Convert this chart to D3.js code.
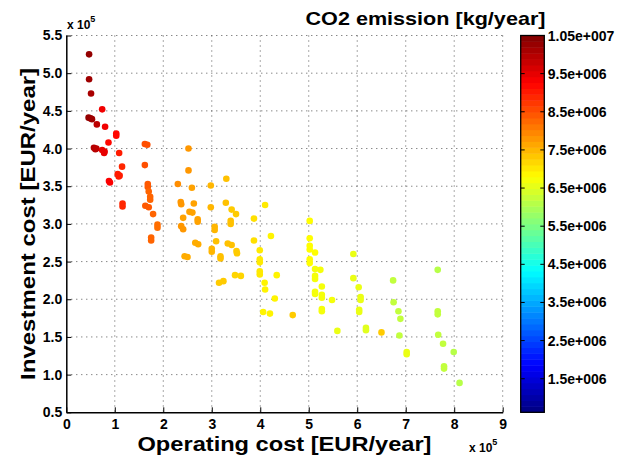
<!DOCTYPE html>
<html>
<head>
<meta charset="utf-8">
<script src="https://cdn.jsdelivr.net/npm/d3@7"></script>
<style>
  body { margin: 0; background: #fff; }
  text { font-family: "Liberation Sans", Arial, Helvetica, sans-serif; font-weight: bold; fill: #000; }
</style>
</head>
<body>
<div class="canvas"></div>
<script>
// operating cost (x 1e5 EUR/year)
let opCost = [
  0.47, 0.47, 0.51, 0.74, 0.46, 0.50, 0.53, 0.63, 0.80, 1.03, 1.03, 0.87, 0.57, 0.60, 0.62, 0.74, 0.78, 0.79,
  1.09, 1.15, 1.06, 1.08, 1.10, 0.88, 0.90, 1.16, 1.16,
  1.62, 1.67, 1.62, 1.68, 1.68, 1.70, 1.73, 1.73, 1.63, 1.70, 1.79, 1.88, 1.88, 1.75, 1.75,
  2.52, 2.52, 2.30, 2.59, 2.36, 2.37, 2.63, 2.54, 2.60, 2.41, 2.71, 2.71, 2.37, 2.41, 2.98, 3.30, 3.29, 2.98,
  3.41, 3.50, 3.39, 3.39, 3.06, 3.06, 2.66, 2.72, 3.09, 3.33, 3.41, 3.00, 3.00, 3.51, 3.52, 2.44, 2.50, 3.18,
  3.18, 3.87, 4.10, 4.22, 3.87, 3.99, 3.99, 3.99, 3.99, 3.99, 3.48, 3.60, 3.15, 3.24, 4.34, 4.09, 4.10, 4.30,
  4.06, 4.20, 4.67,
  5.02, 5.02, 5.02, 5.02, 5.13, 5.02, 5.02, 5.13, 5.24, 5.13, 5.13, 5.27, 5.13, 5.13, 5.27, 5.27, 5.48, 5.27,
  5.27, 5.59, 5.92, 5.92, 6.03, 6.07, 6.07, 6.04, 6.04, 6.18, 6.18, 6.50, 6.74, 6.75, 6.85, 6.89, 6.87, 7.02,
  7.02, 7.66, 7.66, 7.66, 7.67, 7.77, 7.99, 7.79, 7.79, 8.11
]
// investment cost (x 1e5 EUR/year)
let invCost = [
  5.25, 4.92, 4.73, 4.52, 4.41, 4.40, 4.39, 4.32, 4.29, 4.20, 4.17, 4.08, 4.01, 3.99, 4.00, 3.98, 3.94, 3.96,
  3.94, 3.76, 3.66, 3.63, 3.64, 3.57, 3.55, 3.27, 3.23,
  4.06, 4.05, 3.78, 3.53, 3.49, 3.43, 3.36, 3.32, 3.24, 3.22, 3.13, 2.99, 2.95, 2.82, 2.78,
  4.00, 3.71, 3.53, 3.48, 3.29, 3.26, 3.27, 3.16, 3.15, 3.08, 3.06, 3.03, 2.97, 2.93, 3.51, 3.60, 3.28, 3.22,
  3.19, 3.13, 3.04, 3.00, 2.96, 2.92, 2.75, 2.73, 2.77, 2.74, 2.72, 2.67, 2.63, 2.64, 2.61, 2.57, 2.56, 2.57,
  2.54, 3.07, 3.25, 2.84, 2.78, 2.65, 2.53, 2.49, 2.37, 2.33, 2.32, 2.31, 2.22, 2.24, 2.32, 2.22, 2.13, 2.01,
  1.83, 1.81, 1.79,
  3.04, 2.81, 2.71, 2.66, 2.62, 2.53, 2.48, 2.40, 2.39, 2.31, 2.27, 2.17, 2.10, 2.07, 2.06, 2.02, 1.99, 1.87,
  1.84, 1.58, 2.60, 2.28, 2.16, 2.03, 1.99, 1.86, 1.83, 1.62, 1.59, 1.56, 2.25, 1.96, 1.84, 1.74, 1.52, 1.30,
  1.27, 2.39, 1.84, 1.80, 1.53, 1.41, 1.30, 1.11, 1.08, 0.89
]
// CO2 emission (x 1e6 kg/year)
let co2 = [
  10.3, 10.2, 10.1, 9.4, 10.3, 10.3, 10.2, 9.9, 9.4, 9.2, 9.2, 9.2, 10.0, 10.0, 9.9, 9.5, 9.5, 9.5,
  9.0, 8.9, 9.0, 9.0, 9.0, 9.3, 9.3, 8.9, 8.9,
  8.5, 8.5, 8.5, 8.4, 8.4, 8.3, 8.3, 8.3, 8.4, 8.4, 8.3, 8.2, 8.2, 8.3, 8.3,
  7.8, 7.8, 7.9, 7.7, 7.8, 7.8, 7.7, 7.7, 7.7, 7.7, 7.7, 7.7, 7.8, 7.8, 7.5, 7.4, 7.4, 7.5,
  7.3, 7.3, 7.4, 7.4, 7.5, 7.5, 7.6, 7.6, 7.4, 7.4, 7.4, 7.5, 7.5, 7.3, 7.3, 7.6, 7.6, 7.4,
  7.4, 7.1, 7.0, 6.9, 7.1, 7.0, 7.0, 7.0, 7.0, 7.0, 7.2, 7.2, 7.3, 7.3, 6.9, 6.9, 6.9, 6.9,
  6.9, 6.9, 7.3,
  6.8, 6.8, 6.8, 6.8, 6.8, 6.8, 6.8, 6.7, 6.7, 6.7, 6.7, 6.7, 6.7, 6.7, 6.7, 6.7, 6.7, 6.7,
  6.7, 6.6, 6.6, 6.6, 6.6, 6.6, 6.6, 6.6, 6.6, 6.5, 6.5, 7.3, 6.2, 6.2, 6.2, 6.2, 6.2, 6.6,
  6.6, 6.1, 6.2, 6.2, 6.2, 6.2, 6.1, 6.2, 6.2, 6.1
]

let xTicks = [0, 1, 2, 3, 4, 5, 6, 7, 8, 9]
let yTicks = [0.5, 1, 1.5, 2, 2.5, 3, 3.5, 4, 4.5, 5, 5.5]
let cbTicks = [1.5, 2.5, 3.5, 4.5, 5.5, 6.5, 7.5, 8.5, 9.5, 10.5]
let cbLabels = ['1.5e+006', '2.5e+006', '3.5e+006', '4.5e+006', '5.5e+006',
                '6.5e+006', '7.5e+006', '8.5e+006', '9.5e+006', '1.05e+007']
let cbRange = [0.62, 10.5]

let width = 627,
    height = 460,
    mLeft = 66.3,
    mRight = 502.7,
    mTop = 35.5,
    mBottom = 412.3,
    cbLeft = 520.7,
    cbWidth = 23.6

// matlab jet colormap
function jet(t) {
    let c = v => Math.round(255 * Math.max(0, Math.min(1, v)))
    return `rgb(${c(1.5 - Math.abs(4 * t - 3))},${c(1.5 - Math.abs(4 * t - 2))},${c(1.5 - Math.abs(4 * t - 1))})`
}

let svg = d3.select('.canvas').append('svg')
    .attr('width', width)
    .attr('height', height)

let x = d3.scaleLinear().domain([0, 9]).range([mLeft, mRight])
let y = d3.scaleLinear().domain([0.5, 5.5]).range([mBottom, mTop])
let c = d3.scaleLinear().domain(cbRange).range([0, 1])
let cy = d3.scaleLinear().domain(cbRange).range([mBottom, mTop])

// GRID
svg.append('g').selectAll('line')
    .data(xTicks.slice(1))
    .enter().append('line')
    .attr('x1', d => x(d)).attr('x2', d => x(d))
    .attr('y1', mTop).attr('y2', mBottom)
    .attr('stroke', '#555').attr('stroke-dasharray', '1,4')
svg.append('g').selectAll('line')
    .data(yTicks.slice(1))
    .enter().append('line')
    .attr('x1', mLeft).attr('x2', mRight)
    .attr('y1', d => y(d)).attr('y2', d => y(d))
    .attr('stroke', '#555').attr('stroke-dasharray', '1,4')

// AXES
let xAxis = svg.append('g')
    .attr('transform', `translate(0, ${mBottom})`)
    .call(d3.axisBottom(x).tickValues(xTicks).tickSizeInner(-5).tickSizeOuter(0).tickPadding(7))
let yAxis = svg.append('g')
    .attr('transform', `translate(${mLeft}, 0)`)
    .call(d3.axisLeft(y).tickValues(yTicks).tickSizeInner(-5).tickSizeOuter(0).tickPadding(4))
;[xAxis, yAxis].forEach(a => {
    a.select('.domain').attr('stroke', '#000').attr('stroke-width', 1.5)
    a.selectAll('.tick line').attr('stroke', '#000')
    a.selectAll('.tick text').style('font-size', '14px').attr('fill', '#000')
})

// POINTS
let points = opCost.map((d, i) => ({ op: d, inv: invCost[i], co2: co2[i] }))
svg.append('g').selectAll('circle')
    .data(points)
    .enter().append('circle')
    .attr('cx', d => x(d.op))
    .attr('cy', d => y(d.inv))
    .attr('r', 3.3)
    .attr('fill', d => jet(c(d.co2)))

// COLORBAR
let steps = d3.range(64)
let stepH = (mBottom - mTop) / 64
svg.append('g').selectAll('rect')
    .data(steps)
    .enter().append('rect')
    .attr('x', cbLeft)
    .attr('y', d => mBottom - (d + 1) * stepH)
    .attr('width', cbWidth)
    .attr('height', stepH + 0.5)
    .attr('fill', d => jet((d + 0.5) / 64))
svg.append('rect')
    .attr('x', cbLeft).attr('y', mTop)
    .attr('width', cbWidth).attr('height', mBottom - mTop)
    .attr('fill', 'none').attr('stroke', '#000').attr('stroke-width', 1.3)
let cbAxis = svg.append('g')
cbTicks.forEach((t, i) => {
    cbAxis.append('line')
        .attr('x1', cbLeft).attr('x2', cbLeft + 4)
        .attr('y1', cy(t)).attr('y2', cy(t))
        .attr('stroke', '#000')
    cbAxis.append('line')
        .attr('x1', cbLeft + cbWidth - 4).attr('x2', cbLeft + cbWidth)
        .attr('y1', cy(t)).attr('y2', cy(t))
        .attr('stroke', '#000')
    cbAxis.append('text')
        .attr('x', cbLeft + cbWidth + 3.5)
        .attr('y', cy(t) + 5)
        .style('font-size', '14px')
        .text(cbLabels[i])
})

// LABELS
svg.append('text')
    .attr('x', 545.5).attr('y', 25)
    .attr('text-anchor', 'end')
    .attr('textLength', 240).attr('lengthAdjust', 'spacingAndGlyphs')
    .style('font-size', '19px')
    .text('CO2 emission [kg/year]')
svg.append('text')
    .attr('x', (mLeft + mRight) / 2).attr('y', 451)
    .attr('text-anchor', 'middle')
    .attr('textLength', 294).attr('lengthAdjust', 'spacingAndGlyphs')
    .style('font-size', '21px')
    .text('Operating cost [EUR/year]')
svg.append('text')
    .attr('transform', `translate(35, ${(mTop + mBottom) / 2}) rotate(-90)`)
    .attr('text-anchor', 'middle')
    .attr('textLength', 312).attr('lengthAdjust', 'spacingAndGlyphs')
    .style('font-size', '21px')
    .text('Investment cost [EUR/year]')

let exp1 = svg.append('text').attr('x', 67).attr('y', 29).style('font-size', '12px')
exp1.append('tspan').text('x 10')
exp1.append('tspan').attr('dy', -7).style('font-size', '9px').text('5')
let exp2 = svg.append('text').attr('x', 469).attr('y', 452).style('font-size', '12px')
exp2.append('tspan').text('x 10')
exp2.append('tspan').attr('dy', -7).style('font-size', '9px').text('5')
</script>
</body>
</html>
